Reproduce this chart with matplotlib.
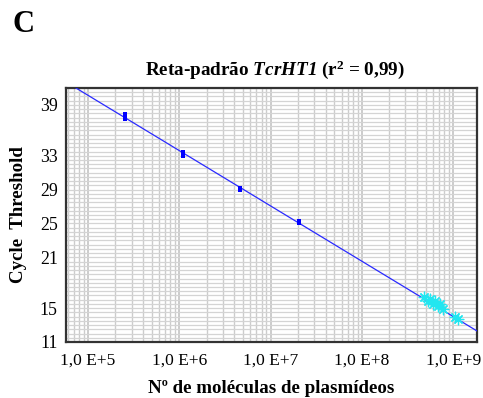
import numpy as np
import matplotlib
matplotlib.use("Agg")
import matplotlib.pyplot as plt
from matplotlib.ticker import FixedLocator, MultipleLocator, LogLocator, NullFormatter

plt.rcParams['font.family'] = ['Liberation Serif', 'DejaVu Serif']
plt.rcParams['mathtext.fontset'] = 'custom'
plt.rcParams['mathtext.rm'] = 'Liberation Serif:italic:bold'
plt.rcParams['mathtext.it'] = 'Liberation Serif:italic:bold'
plt.rcParams['mathtext.bf'] = 'Liberation Serif:bold'

# Standards (plasmid copies, triplicate Ct)
std_copies = [2.55e5, 2.55e5, 2.55e5,
              1.10e6, 1.10e6, 1.10e6,
              4.62e6, 4.62e6, 4.62e6,
              2.05e7, 2.05e7, 2.05e7]
std_ct = [37.3, 37.6, 37.9,
          33.0, 33.25, 33.5,
          28.95, 29.1, 29.2,
          25.1, 25.2, 25.25]

# Unknown samples (cyan)
unk_copies = [4.8e8, 5.3e8, 5.6e8, 6.0e8, 6.3e8, 6.8e8, 7.2e8, 7.8e8, 1.05e9, 1.12e9]
unk_ct = [16.3, 15.8, 16.1, 15.5, 15.9, 15.2, 15.5, 14.9, 14.0, 13.7]

xtick_vals = [1e5, 1e6, 1e7, 1e8, 1e9]
xtick_labels = ['1,0 E+5', '1,0 E+6', '1,0 E+7', '1,0 E+8', '1,0 E+9']
ytick_vals = [11, 15, 21, 25, 29, 33, 39]
ytick_labels = ['11', '15', '21', '25', '29', '33', '39']

W, H = 483, 398
fig = plt.figure(figsize=(W / 100, H / 100), dpi=100)
ax = fig.add_axes([66 / W, 1 - 342 / H, (477 - 66) / W, (342 - 88) / H])

xmin, xmax = 10 ** 4.759, 10 ** 9.261
ax.set_xscale('log')
ax.set_xlim(xmin, xmax)
ax.set_ylim(11, 41)

# regression line from standards
slope, icpt = np.polyfit(np.log10(std_copies), std_ct, 1)
xl = np.logspace(np.log10(xmin), np.log10(xmax), 200)
ax.plot(xl, icpt + slope * np.log10(xl), color='#2a2aff', lw=0.9, zorder=3)

ax.plot(std_copies, std_ct, linestyle='none', marker='s', markersize=3.2,
        markeredgewidth=0, color='#0000ff', zorder=4)
ax.plot(unk_copies, unk_ct, linestyle='none', marker=(8, 2, 0), markersize=8,
        markeredgewidth=0.9, color='#22e6f0', zorder=5)
ax.plot(unk_copies, unk_ct, linestyle='none', marker='+', markersize=9,
        markeredgewidth=0.7, color='#22e6f0', zorder=5)

# ticks
ax.xaxis.set_major_locator(FixedLocator(xtick_vals))
ax.set_xticklabels(xtick_labels)
ax.xaxis.set_minor_locator(LogLocator(base=10, subs=np.arange(2, 10)))
ax.xaxis.set_minor_formatter(NullFormatter())
ax.yaxis.set_major_locator(FixedLocator(ytick_vals))
ax.set_yticklabels(ytick_labels)
ax.yaxis.set_minor_locator(MultipleLocator(0.5))
ax.tick_params(which='both', length=0)
ax.tick_params(axis='x', pad=8, labelsize=12.5)
ax.tick_params(axis='y', pad=6, labelsize=12.8)

# grid
ax.grid(which='major', axis='x', color='#c4c4c4', lw=1.2)
ax.grid(which='minor', axis='x', color='#cccccc', lw=1.0)
ax.grid(which='minor', axis='y', color='#d4d4d4', lw=0.9)
ax.grid(which='major', axis='y', color='#d4d4d4', lw=0.9)
ax.set_axisbelow(True)

for s in ax.spines.values():
    s.set_color('#333333')
    s.set_linewidth(1.6)

ax.set_xlabel('Nº de moléculas de plasmídeos', fontsize=13.6, fontweight='bold', labelpad=8)
ax.set_ylabel('Cycle  Threshold', fontsize=13.6, fontweight='bold', labelpad=9)

fig.text(275 / W, 1 - 70 / H, r'Reta-padrão $\mathrm{TcrHT1}$ (r$^{\mathbf{2}}$ = 0,99)',
         ha='center', va='center', fontsize=13.8, fontweight='bold')
fig.text(13 / W, 1 - 24 / H, 'C', ha='left', va='center', fontsize=22, fontweight='bold')

fig.savefig('out.png', dpi=100)
